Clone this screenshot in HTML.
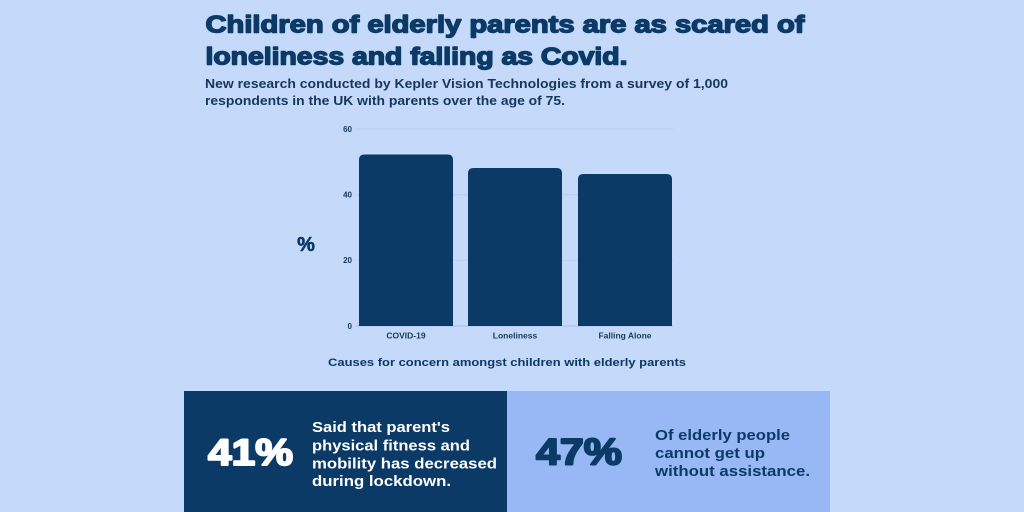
<!DOCTYPE html>
<html>
<head>
<meta charset="utf-8">
<style>
  html, body { margin: 0; padding: 0; background: #c5d9fb; }
  svg { display: block; }
  text { font-family: "Liberation Sans", "DejaVu Sans", sans-serif; }
</style>
</head>
<body>
<svg width="1024" height="512" viewBox="0 0 1024 512" xmlns="http://www.w3.org/2000/svg">
  <rect x="0" y="0" width="1024" height="512" fill="#c5d9fb"/>

  <!-- Title -->
  <g fill="#0b3a66" stroke="#0b3a66" stroke-width="1.4" stroke-linejoin="round" font-weight="bold" font-size="24">
    <text x="205.5" y="32.5" textLength="599" lengthAdjust="spacingAndGlyphs">Children of elderly parents are as scared of</text>
    <text x="205.5" y="64.5" textLength="422" lengthAdjust="spacingAndGlyphs">loneliness and falling as Covid.</text>
  </g>
  <!-- Subtitle -->
  <g fill="#15375e" font-weight="bold" font-size="12.5">
    <text x="205" y="88" textLength="523" lengthAdjust="spacingAndGlyphs">New research conducted by Kepler Vision Technologies from a survey of 1,000</text>
    <text x="205" y="105" textLength="360" lengthAdjust="spacingAndGlyphs">respondents in the UK with parents over the age of 75.</text>
  </g>

  <!-- Gridlines -->
  <g stroke="#b9cdf0" stroke-width="1">
    <line x1="356" y1="129" x2="673" y2="129"/>
    <line x1="356" y1="194.7" x2="673" y2="194.7"/>
    <line x1="356" y1="260.3" x2="673" y2="260.3"/>
  </g>
  <line x1="356" y1="326" x2="673" y2="326" stroke="#a9bfe6" stroke-width="1"/>

  <!-- Tick labels -->
  <g fill="#1b3a60" font-weight="bold" font-size="8" text-anchor="end">
    <text x="352" y="132">60</text>
    <text x="352" y="197.5">40</text>
    <text x="352" y="263">20</text>
    <text x="352" y="329">0</text>
  </g>

  <!-- Y axis label -->
  <text x="306" y="251" fill="#0b3a66" stroke="#0b3a66" stroke-width="0.6" font-weight="bold" font-size="20" text-anchor="middle">%</text>

  <!-- Bars -->
  <g fill="#0b3a66">
    <path d="M359,326 L359,160 Q359,154.5 364.5,154.5 L447.5,154.5 Q453,154.5 453,160 L453,326 Z"/>
    <path d="M468,326 L468,173.5 Q468,168 473.5,168 L556.5,168 Q562,168 562,173.5 L562,326 Z"/>
    <path d="M578,326 L578,179.5 Q578,174 583.5,174 L666.5,174 Q672,174 672,179.5 L672,326 Z"/>
  </g>

  <!-- Category labels -->
  <g fill="#1b3a60" font-weight="bold" font-size="8.5" text-anchor="middle">
    <text x="406" y="338.5">COVID-19</text>
    <text x="515" y="338.5">Loneliness</text>
    <text x="625" y="338.5">Falling Alone</text>
  </g>

  <!-- Caption -->
  <text x="328" y="366" fill="#0b3a66" font-weight="bold" font-size="11" textLength="358" lengthAdjust="spacingAndGlyphs">Causes for concern amongst children with elderly parents</text>

  <!-- Bottom boxes -->
  <rect x="184" y="391" width="323" height="121" fill="#0b3a66"/>
  <rect x="507" y="391" width="323" height="121" fill="#97b8f5"/>

  <text x="208" y="465" fill="#ffffff" stroke="#ffffff" stroke-width="2" stroke-linejoin="round" font-weight="bold" font-size="37" textLength="85" lengthAdjust="spacingAndGlyphs">41%</text>
  <g fill="#ffffff" font-weight="bold" font-size="14.5">
    <text x="312" y="432" textLength="138" lengthAdjust="spacingAndGlyphs">Said that parent's</text>
    <text x="312" y="450.5" textLength="158" lengthAdjust="spacingAndGlyphs">physical fitness and</text>
    <text x="312" y="468.5" textLength="185" lengthAdjust="spacingAndGlyphs">mobility has decreased</text>
    <text x="312" y="486" textLength="139" lengthAdjust="spacingAndGlyphs">during lockdown.</text>
  </g>

  <text x="536" y="464.5" fill="#0b3a66" stroke="#0b3a66" stroke-width="2" stroke-linejoin="round" font-weight="bold" font-size="37" textLength="86" lengthAdjust="spacingAndGlyphs">47%</text>
  <g fill="#0b3a66" font-weight="bold" font-size="14.5">
    <text x="655" y="440" textLength="135" lengthAdjust="spacingAndGlyphs">Of elderly people</text>
    <text x="655" y="458" textLength="110" lengthAdjust="spacingAndGlyphs">cannot get up</text>
    <text x="655" y="476" textLength="155" lengthAdjust="spacingAndGlyphs">without assistance.</text>
  </g>
</svg>
</body>
</html>
